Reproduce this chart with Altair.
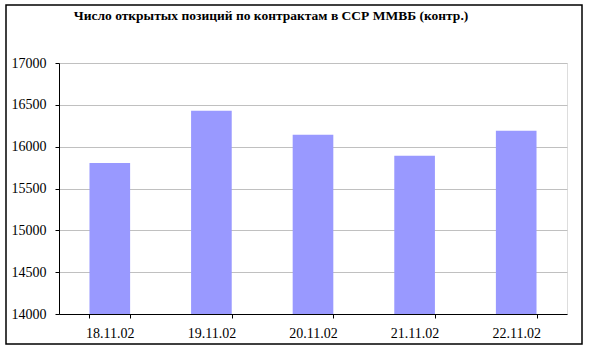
import altair as alt
import pandas as pd

title_text = "Число открытых позиций по контрактам в ССР ММВБ (контр.)"
dates = ["18.11.02", "19.11.02", "20.11.02", "21.11.02", "22.11.02"]
values = [15805, 16430, 16143, 15892, 16191]
y_ticks = [14000, 14500, 15000, 15500, 16000, 16500, 17000]

df = pd.DataFrame({"date": dates, "value": values})

FONT = "'Liberation Serif', 'Times New Roman', Times, serif"

bars = alt.Chart(df).mark_bar(color="#9999ff", clip=True).encode(
    x=alt.X("date:N", sort=dates, title=None,
            scale=alt.Scale(paddingInner=0.6, paddingOuter=0.3),
            axis=alt.Axis(labelAngle=0, labelFont=FONT, labelFontSize=14,
                          labelColor="#000000", domainColor="#000000",
                          tickColor="#000000", tickSize=4, labelPadding=8,
                          tickBand="extent", grid=False)),
    y=alt.Y("value:Q", title=None,
            scale=alt.Scale(domain=[14000, 17000], nice=False, zero=False),
            axis=alt.Axis(values=y_ticks, format="d", labelFont=FONT, labelFontSize=14,
                          labelColor="#000000", domainColor="#000000",
                          tickColor="#000000", tickSize=4, labelPadding=9,
                          gridColor="#c0c0c0", gridWidth=1)),
)

one = pd.DataFrame({"a": [0]})

frame = alt.Chart(one).mark_rect(
    filled=False, stroke="#000000", strokeWidth=1.5, fill=None
).encode(
    x=alt.value(-53), x2=alt.value(523), y=alt.value(-58), y2=alt.value(281)
)

title = alt.Chart(one).mark_text(
    font=FONT, fontSize=13.5, fontWeight="bold", color="#000000",
    align="center", baseline="alphabetic"
).encode(x=alt.value(212), y=alt.value(-43), text=alt.value(title_text))

chart = alt.layer(bars, frame, title).properties(
    width=508,
    height=251,
    autosize=alt.AutoSizeParams(type="none"),
    padding={"left": 59, "top": 63, "right": 22, "bottom": 36},
).configure_view(stroke="#808080", strokeWidth=1.5).configure(background="#ffffff")

chart.save("out.html", embed_options={"renderer": "svg", "actions": False})
